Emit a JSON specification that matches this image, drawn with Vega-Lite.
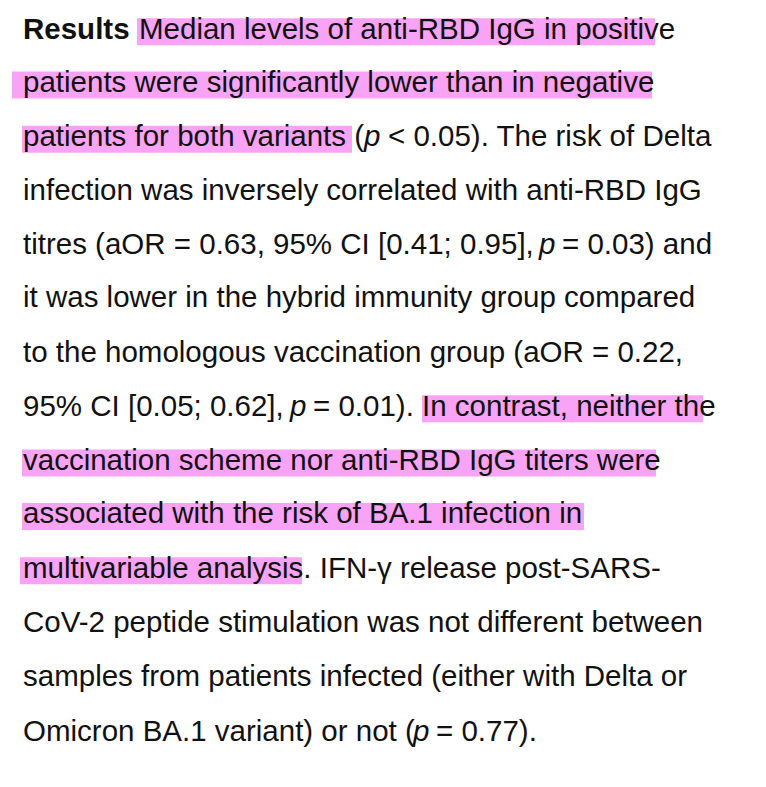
{
  "$schema": "https://vega.github.io/schema/vega-lite/v6.json",
  "width": 766,
  "height": 787,
  "autosize": {"type": "fit", "contains": "padding"},
  "padding": 0,
  "background": "white",
  "config": {"view": {"stroke": null}},
  "datasets": {
    "marks": [
      {"x1": 137, "x2": 655, "y": 27},
      {"x1": 12, "x2": 652, "y": 81},
      {"x1": 22, "x2": 352, "y": 136},
      {"x1": 422, "x2": 703, "y": 409},
      {"x1": 22, "x2": 656, "y": 464},
      {"x1": 22, "x2": 584, "y": 518},
      {"x1": 20, "x2": 302, "y": 573}
    ],
    "words": [
      {"line": 27, "x": 23, "style": "bold", "t": "Results"},
      {"line": 27, "x": 139, "style": "plain", "t": "Median levels of anti-RBD IgG in positive"},
      {"line": 81, "x": 23, "style": "plain", "t": "patients were significantly lower than in negative"},
      {"line": 136, "x": 23, "style": "plain", "t": "patients for both variants ("},
      {"line": 136, "x": 364, "style": "italic", "t": "p"},
      {"line": 136, "x": 388, "style": "plain", "t": "< 0.05). The risk of Delta"},
      {"line": 190, "x": 23, "style": "plain", "t": "infection was inversely correlated with anti-RBD IgG"},
      {"line": 245, "x": 23, "style": "plain", "t": "titres (aOR = 0.63, 95% CI [0.41; 0.95],"},
      {"line": 245, "x": 539, "style": "italic", "t": "p"},
      {"line": 245, "x": 562, "style": "plain", "t": "= 0.03) and"},
      {"line": 299, "x": 23, "style": "plain", "t": "it was lower in the hybrid immunity group compared"},
      {"line": 354, "x": 23, "style": "plain", "t": "to the homologous vaccination group (aOR = 0.22,"},
      {"line": 409, "x": 23, "style": "plain", "t": "95% CI [0.05; 0.62],"},
      {"line": 409, "x": 290, "style": "italic", "t": "p"},
      {"line": 409, "x": 313, "style": "plain", "t": "= 0.01). In contrast, neither the"},
      {"line": 464, "x": 23, "style": "plain", "t": "vaccination scheme nor anti-RBD IgG titers were"},
      {"line": 518, "x": 23, "style": "plain", "t": "associated with the risk of BA.1 infection in"},
      {"line": 573, "x": 23, "style": "plain", "t": "multivariable analysis. IFN-γ release post-SARS-"},
      {"line": 628, "x": 23, "style": "plain", "t": "CoV-2 peptide stimulation was not different between"},
      {"line": 683, "x": 23, "style": "plain", "t": "samples from patients infected (either with Delta or"},
      {"line": 738, "x": 23, "style": "plain", "t": "Omicron BA.1 variant) or not ("},
      {"line": 738, "x": 413, "style": "italic", "t": "p"},
      {"line": 738, "x": 436, "style": "plain", "t": "= 0.77)."}
    ]
  },
  "layer": [
    {
      "data": {"name": "marks"},
      "mark": {"type": "bar", "color": "#f9a3f6", "height": 27},
      "encoding": {
        "x": {"field": "x1", "type": "quantitative", "scale": {"domain": [0, 766], "nice": false, "zero": false}, "axis": null},
        "x2": {"field": "x2"},
        "y": {"field": "y", "type": "quantitative", "scale": {"domain": [0, 787], "reverse": true, "nice": false, "zero": false}, "axis": null}
      }
    },
    {
      "data": {"name": "words"},
      "transform": [{"filter": "datum.style == 'plain'"}],
      "mark": {"type": "text", "align": "left", "baseline": "middle", "font": "Liberation Sans", "fontSize": 29.5, "color": "#111", "dy": -2},
      "encoding": {
        "x": {"field": "x", "type": "quantitative"},
        "y": {"field": "line", "type": "quantitative"},
        "text": {"field": "t"}
      }
    },
    {
      "data": {"name": "words"},
      "transform": [{"filter": "datum.style == 'bold'"}],
      "mark": {"type": "text", "align": "left", "baseline": "middle", "font": "Liberation Sans", "fontSize": 29.5, "fontWeight": "bold", "color": "#111", "dy": -2},
      "encoding": {
        "x": {"field": "x", "type": "quantitative"},
        "y": {"field": "line", "type": "quantitative"},
        "text": {"field": "t"}
      }
    },
    {
      "data": {"name": "words"},
      "transform": [{"filter": "datum.style == 'italic'"}],
      "mark": {"type": "text", "align": "left", "baseline": "middle", "font": "Liberation Sans", "fontSize": 29.5, "fontStyle": "italic", "color": "#111", "dy": -2},
      "encoding": {
        "x": {"field": "x", "type": "quantitative"},
        "y": {"field": "line", "type": "quantitative"},
        "text": {"field": "t"}
      }
    }
  ]
}
